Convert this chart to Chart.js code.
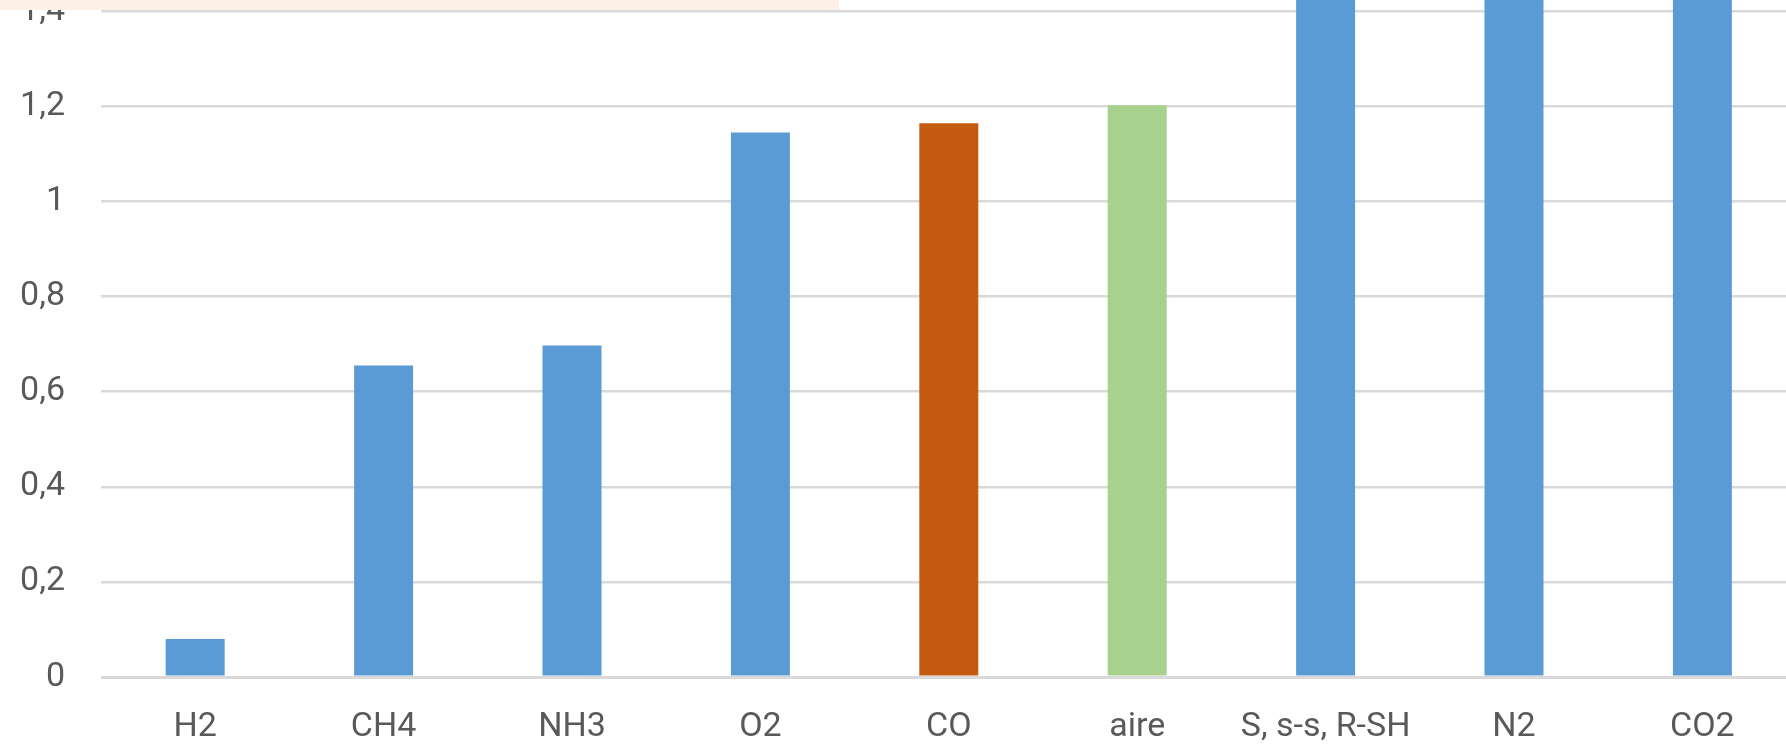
<!DOCTYPE html>
<html>
<head>
<meta charset="utf-8">
<script src="https://cdn.jsdelivr.net/npm/chart.js@4/dist/chart.umd.min.js"></script>
<style>
  html, body { margin: 0; padding: 0; background: #ffffff; overflow: hidden; width: 1786px; height: 746px; }
  #wrap { position: absolute; left: 0; top: -164px; width: 1800px; height: 911px; }
  #topbox { position: absolute; left: 0; top: 0; width: 839px; height: 10px; background: #FEF1E7; z-index: 2; }
</style>
</head>
<body>
<div id="topbox"></div>
<div id="wrap"><canvas id="c"></canvas></div>
<script>
const categories = ['H2', 'CH4', 'NH3', 'O2', 'CO', 'aire', 'S, s-s, R-SH', 'N2', 'CO2'];
const values = [0.08, 0.655, 0.697, 1.145, 1.164, 1.202, 1.5, 1.5, 1.8];
const barColors = ['#5B9BD5', '#5B9BD5', '#5B9BD5', '#5B9BD5', '#C55A11', '#A9D18E', '#5B9BD5', '#5B9BD5', '#5B9BD5'];
const yTickValues = [0, 0.2, 0.4, 0.6, 0.8, 1, 1.2, 1.4, 1.6];
const yTickLabels = ['0', '0,2', '0,4', '0,6', '0,8', '1', '1,2', '1,4', '1,6'];

const FONT = { family: 'Roboto', size: 34 };
const TEXT = '#595959';

new Chart(document.getElementById('c'), {
  type: 'bar',
  data: {
    labels: categories,
    datasets: [{
      data: values,
      backgroundColor: barColors,
      borderWidth: 0,
      categoryPercentage: 1,
      barPercentage: 0.313
    }]
  },
  options: {
    responsive: true,
    maintainAspectRatio: false,
    devicePixelRatio: 1,
    animation: false,
    layout: { padding: { left: 0, right: 3.4, top: 80, bottom: 0 } },
    plugins: { legend: { display: false }, tooltip: { enabled: false }, title: { display: false } },
    scales: {
      x: {
        grid: { display: false, drawTicks: false },
        border: { display: false },
        ticks: { font: FONT, color: TEXT, padding: 30, maxRotation: 0, autoSkip: false },
        afterFit: (s) => { s.height = 70; }
      },
      y: {
        min: 0,
        max: 1.6,
        afterBuildTicks: (s) => { s.ticks = yTickValues.map(v => ({ value: v })); },
        grid: {
          color: '#D9D9D9',
          lineWidth: (ctx) => (ctx.tick && ctx.tick.value === 0 ? 3 : 2.5),
          drawTicks: false
        },
        border: { display: false },
        ticks: {
          font: FONT,
          color: TEXT,
          padding: 36,
          callback: (v, i) => yTickLabels[i]
        },
        afterFit: (s) => { s.width = 101; }
      }
    }
  }
});
</script>
</body>
</html>
